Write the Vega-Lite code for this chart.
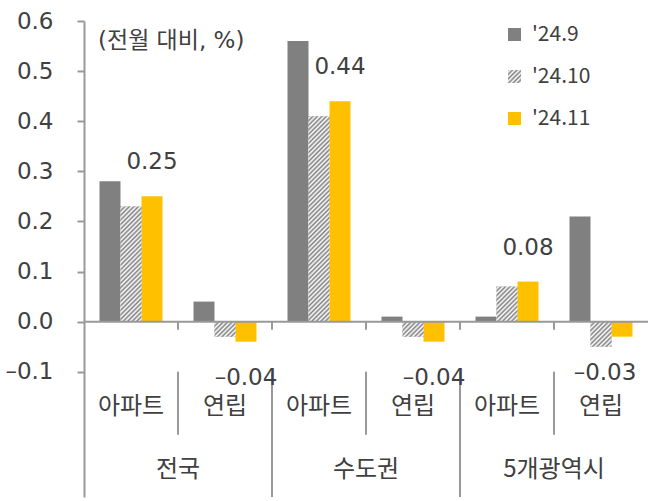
{
  "$schema": "https://vega.github.io/schema/vega-lite/v6.json",
  "width": 564,
  "height": 476,
  "autosize": {"type": "none"},
  "padding": {"left": 84, "top": 21, "right": 7, "bottom": 4},
  "background": "white",
  "config": {"view": {"stroke": null}, "font": "Noto Sans CJK KR"},
  "title": {"text": "(전월 대비, %)", "anchor": "start", "frame": "group", "orient": "top", "offset": -15, "baseline": "middle", "dx": 14, "dy": 39, "fontSize": 23, "font": "DejaVu Sans, Noto Sans CJK KR", "fontWeight": "normal", "color": "#404040"},
  "params": [
    {"name": "gL", "value": {"gradient": "linear", "x1": 0, "y1": 0, "x2": 8.692, "y2": 8.692, "stops": [{"offset":0,"color":"#808080"},{"offset":0.01,"color":"#fff"},{"offset":0.02,"color":"#808080"},{"offset":0.03,"color":"#fff"},{"offset":0.04,"color":"#808080"},{"offset":0.05,"color":"#fff"},{"offset":0.06,"color":"#808080"},{"offset":0.07,"color":"#fff"},{"offset":0.08,"color":"#808080"},{"offset":0.09,"color":"#fff"},{"offset":0.1,"color":"#808080"},{"offset":0.11,"color":"#fff"},{"offset":0.12,"color":"#808080"}]}},
    {"name": "gB", "value": {"gradient": "linear", "x1": 0, "y1": 0, "x2": 7.12, "y2": 5.09, "stops": [{"offset":0,"color":"#808080"},{"offset":0.01,"color":"#fff"},{"offset":0.02,"color":"#808080"},{"offset":0.03,"color":"#fff"},{"offset":0.04,"color":"#808080"},{"offset":0.05,"color":"#fff"},{"offset":0.06,"color":"#808080"},{"offset":0.07,"color":"#fff"},{"offset":0.08,"color":"#808080"},{"offset":0.09,"color":"#fff"},{"offset":0.1,"color":"#808080"},{"offset":0.11,"color":"#fff"},{"offset":0.12,"color":"#808080"},{"offset":0.13,"color":"#fff"},{"offset":0.14,"color":"#808080"},{"offset":0.15,"color":"#fff"},{"offset":0.16,"color":"#808080"}]}},
    {"name": "gF", "value": {"gradient": "linear", "x1": 0, "y1": 0, "x2": 4.442, "y2": 5.299, "stops": [{"offset":0,"color":"#808080"},{"offset":0.01,"color":"#fff"},{"offset":0.02,"color":"#808080"},{"offset":0.03,"color":"#fff"},{"offset":0.04,"color":"#808080"},{"offset":0.05,"color":"#fff"},{"offset":0.06,"color":"#808080"},{"offset":0.07,"color":"#fff"},{"offset":0.08,"color":"#808080"},{"offset":0.09,"color":"#fff"},{"offset":0.1,"color":"#808080"},{"offset":0.11,"color":"#fff"},{"offset":0.12,"color":"#808080"},{"offset":0.13,"color":"#fff"},{"offset":0.14,"color":"#808080"},{"offset":0.15,"color":"#fff"},{"offset":0.16,"color":"#808080"},{"offset":0.17,"color":"#fff"},{"offset":0.18,"color":"#808080"},{"offset":0.19,"color":"#fff"},{"offset":0.2,"color":"#808080"},{"offset":0.21,"color":"#fff"}]}},
    {"name": "gE", "value": {"gradient": "linear", "x1": 0, "y1": 0, "x2": 2.84, "y2": 4.743, "stops": [{"offset":0,"color":"#808080"},{"offset":0.01,"color":"#fff"},{"offset":0.02,"color":"#808080"},{"offset":0.03,"color":"#fff"},{"offset":0.04,"color":"#808080"},{"offset":0.05,"color":"#fff"},{"offset":0.06,"color":"#808080"},{"offset":0.07,"color":"#fff"},{"offset":0.08,"color":"#808080"},{"offset":0.09,"color":"#fff"},{"offset":0.1,"color":"#808080"},{"offset":0.11,"color":"#fff"},{"offset":0.12,"color":"#808080"},{"offset":0.13,"color":"#fff"},{"offset":0.14,"color":"#808080"},{"offset":0.15,"color":"#fff"},{"offset":0.16,"color":"#808080"},{"offset":0.17,"color":"#fff"},{"offset":0.18,"color":"#808080"},{"offset":0.19,"color":"#fff"},{"offset":0.2,"color":"#808080"},{"offset":0.21,"color":"#fff"},{"offset":0.22,"color":"#808080"},{"offset":0.23,"color":"#fff"},{"offset":0.24,"color":"#808080"},{"offset":0.25,"color":"#fff"}]}},
    {"name": "gA", "value": {"gradient": "linear", "x1": 0, "y1": 0, "x2": 0.3461, "y2": 1.8988, "stops": [{"offset":0,"color":"#808080"},{"offset":0.01,"color":"#fff"},{"offset":0.02,"color":"#808080"},{"offset":0.03,"color":"#fff"},{"offset":0.04,"color":"#808080"},{"offset":0.05,"color":"#fff"},{"offset":0.06,"color":"#808080"},{"offset":0.07,"color":"#fff"},{"offset":0.08,"color":"#808080"},{"offset":0.09,"color":"#fff"},{"offset":0.1,"color":"#808080"},{"offset":0.11,"color":"#fff"},{"offset":0.12,"color":"#808080"},{"offset":0.13,"color":"#fff"},{"offset":0.14,"color":"#808080"},{"offset":0.15,"color":"#fff"},{"offset":0.16,"color":"#808080"},{"offset":0.17,"color":"#fff"},{"offset":0.18,"color":"#808080"},{"offset":0.19,"color":"#fff"},{"offset":0.2,"color":"#808080"},{"offset":0.21,"color":"#fff"},{"offset":0.22,"color":"#808080"},{"offset":0.23,"color":"#fff"},{"offset":0.24,"color":"#808080"},{"offset":0.25,"color":"#fff"},{"offset":0.26,"color":"#808080"},{"offset":0.27,"color":"#fff"},{"offset":0.28,"color":"#808080"},{"offset":0.29,"color":"#fff"},{"offset":0.3,"color":"#808080"},{"offset":0.31,"color":"#fff"},{"offset":0.32,"color":"#808080"},{"offset":0.33,"color":"#fff"},{"offset":0.34,"color":"#808080"},{"offset":0.35,"color":"#fff"},{"offset":0.36,"color":"#808080"},{"offset":0.37,"color":"#fff"},{"offset":0.38,"color":"#808080"},{"offset":0.39,"color":"#fff"},{"offset":0.4,"color":"#808080"},{"offset":0.41,"color":"#fff"},{"offset":0.42,"color":"#808080"},{"offset":0.43,"color":"#fff"},{"offset":0.44,"color":"#808080"},{"offset":0.45,"color":"#fff"},{"offset":0.46,"color":"#808080"},{"offset":0.47,"color":"#fff"},{"offset":0.48,"color":"#808080"},{"offset":0.49,"color":"#fff"},{"offset":0.5,"color":"#808080"},{"offset":0.51,"color":"#fff"},{"offset":0.52,"color":"#808080"},{"offset":0.53,"color":"#fff"},{"offset":0.54,"color":"#808080"},{"offset":0.55,"color":"#fff"},{"offset":0.56,"color":"#808080"},{"offset":0.57,"color":"#fff"},{"offset":0.58,"color":"#808080"},{"offset":0.59,"color":"#fff"},{"offset":0.6,"color":"#808080"},{"offset":0.61,"color":"#fff"}]}},
    {"name": "gC", "value": {"gradient": "linear", "x1": 0, "y1": 0, "x2": 0.11176, "y2": 1.091, "stops": [{"offset":0,"color":"#808080"},{"offset":0.01,"color":"#fff"},{"offset":0.02,"color":"#808080"},{"offset":0.03,"color":"#fff"},{"offset":0.04,"color":"#808080"},{"offset":0.05,"color":"#fff"},{"offset":0.06,"color":"#808080"},{"offset":0.07,"color":"#fff"},{"offset":0.08,"color":"#808080"},{"offset":0.09,"color":"#fff"},{"offset":0.1,"color":"#808080"},{"offset":0.11,"color":"#fff"},{"offset":0.12,"color":"#808080"},{"offset":0.13,"color":"#fff"},{"offset":0.14,"color":"#808080"},{"offset":0.15,"color":"#fff"},{"offset":0.16,"color":"#808080"},{"offset":0.17,"color":"#fff"},{"offset":0.18,"color":"#808080"},{"offset":0.19,"color":"#fff"},{"offset":0.2,"color":"#808080"},{"offset":0.21,"color":"#fff"},{"offset":0.22,"color":"#808080"},{"offset":0.23,"color":"#fff"},{"offset":0.24,"color":"#808080"},{"offset":0.25,"color":"#fff"},{"offset":0.26,"color":"#808080"},{"offset":0.27,"color":"#fff"},{"offset":0.28,"color":"#808080"},{"offset":0.29,"color":"#fff"},{"offset":0.3,"color":"#808080"},{"offset":0.31,"color":"#fff"},{"offset":0.32,"color":"#808080"},{"offset":0.33,"color":"#fff"},{"offset":0.34,"color":"#808080"},{"offset":0.35,"color":"#fff"},{"offset":0.36,"color":"#808080"},{"offset":0.37,"color":"#fff"},{"offset":0.38,"color":"#808080"},{"offset":0.39,"color":"#fff"},{"offset":0.4,"color":"#808080"},{"offset":0.41,"color":"#fff"},{"offset":0.42,"color":"#808080"},{"offset":0.43,"color":"#fff"},{"offset":0.44,"color":"#808080"},{"offset":0.45,"color":"#fff"},{"offset":0.46,"color":"#808080"},{"offset":0.47,"color":"#fff"},{"offset":0.48,"color":"#808080"},{"offset":0.49,"color":"#fff"},{"offset":0.5,"color":"#808080"},{"offset":0.51,"color":"#fff"},{"offset":0.52,"color":"#808080"},{"offset":0.53,"color":"#fff"},{"offset":0.54,"color":"#808080"},{"offset":0.55,"color":"#fff"},{"offset":0.56,"color":"#808080"},{"offset":0.57,"color":"#fff"},{"offset":0.58,"color":"#808080"},{"offset":0.59,"color":"#fff"},{"offset":0.6,"color":"#808080"},{"offset":0.61,"color":"#fff"},{"offset":0.62,"color":"#808080"},{"offset":0.63,"color":"#fff"},{"offset":0.64,"color":"#808080"},{"offset":0.65,"color":"#fff"},{"offset":0.66,"color":"#808080"},{"offset":0.67,"color":"#fff"},{"offset":0.68,"color":"#808080"},{"offset":0.69,"color":"#fff"},{"offset":0.7,"color":"#808080"},{"offset":0.71,"color":"#fff"},{"offset":0.72,"color":"#808080"},{"offset":0.73,"color":"#fff"},{"offset":0.74,"color":"#808080"},{"offset":0.75,"color":"#fff"},{"offset":0.76,"color":"#808080"},{"offset":0.77,"color":"#fff"},{"offset":0.78,"color":"#808080"},{"offset":0.79,"color":"#fff"},{"offset":0.8,"color":"#808080"},{"offset":0.81,"color":"#fff"},{"offset":0.82,"color":"#808080"},{"offset":0.83,"color":"#fff"},{"offset":0.84,"color":"#808080"},{"offset":0.85,"color":"#fff"},{"offset":0.86,"color":"#808080"},{"offset":0.87,"color":"#fff"},{"offset":0.88,"color":"#808080"},{"offset":0.89,"color":"#fff"},{"offset":0.9,"color":"#808080"},{"offset":0.91,"color":"#fff"},{"offset":0.92,"color":"#808080"},{"offset":0.93,"color":"#fff"},{"offset":0.94,"color":"#808080"},{"offset":0.95,"color":"#fff"},{"offset":0.96,"color":"#808080"},{"offset":0.97,"color":"#fff"},{"offset":0.98,"color":"#808080"},{"offset":0.99,"color":"#fff"},{"offset":1,"color":"#808080"}]}}
  ],
  "datasets": {
    "bars": [
      {"grp": "전국", "sub": "아파트", "cat": "전국 아파트", "series": "'24.9", "value": 0.28},
      {"grp": "전국", "sub": "아파트", "cat": "전국 아파트", "series": "'24.10", "value": 0.23},
      {"grp": "전국", "sub": "아파트", "cat": "전국 아파트", "series": "'24.11", "value": 0.25},
      {"grp": "전국", "sub": "연립", "cat": "전국 연립", "series": "'24.9", "value": 0.04},
      {"grp": "전국", "sub": "연립", "cat": "전국 연립", "series": "'24.10", "value": -0.03},
      {"grp": "전국", "sub": "연립", "cat": "전국 연립", "series": "'24.11", "value": -0.04},
      {"grp": "수도권", "sub": "아파트", "cat": "수도권 아파트", "series": "'24.9", "value": 0.56},
      {"grp": "수도권", "sub": "아파트", "cat": "수도권 아파트", "series": "'24.10", "value": 0.41},
      {"grp": "수도권", "sub": "아파트", "cat": "수도권 아파트", "series": "'24.11", "value": 0.44},
      {"grp": "수도권", "sub": "연립", "cat": "수도권 연립", "series": "'24.9", "value": 0.01},
      {"grp": "수도권", "sub": "연립", "cat": "수도권 연립", "series": "'24.10", "value": -0.03},
      {"grp": "수도권", "sub": "연립", "cat": "수도권 연립", "series": "'24.11", "value": -0.04},
      {"grp": "5개광역시", "sub": "아파트", "cat": "5개광역시 아파트", "series": "'24.9", "value": 0.01},
      {"grp": "5개광역시", "sub": "아파트", "cat": "5개광역시 아파트", "series": "'24.10", "value": 0.07},
      {"grp": "5개광역시", "sub": "아파트", "cat": "5개광역시 아파트", "series": "'24.11", "value": 0.08},
      {"grp": "5개광역시", "sub": "연립", "cat": "5개광역시 연립", "series": "'24.9", "value": 0.21},
      {"grp": "5개광역시", "sub": "연립", "cat": "5개광역시 연립", "series": "'24.10", "value": -0.05},
      {"grp": "5개광역시", "sub": "연립", "cat": "5개광역시 연립", "series": "'24.11", "value": -0.03}
    ],
    "cats": [
      {"grp": "전국", "sub": "아파트", "cat": "전국 아파트", "idx": 0},
      {"grp": "전국", "sub": "연립", "cat": "전국 연립", "idx": 1},
      {"grp": "수도권", "sub": "아파트", "cat": "수도권 아파트", "idx": 2},
      {"grp": "수도권", "sub": "연립", "cat": "수도권 연립", "idx": 3},
      {"grp": "5개광역시", "sub": "아파트", "cat": "5개광역시 아파트", "idx": 4},
      {"grp": "5개광역시", "sub": "연립", "cat": "5개광역시 연립", "idx": 5}
    ]
  },
  "layer": [
    {
      "data": {"name": "bars"},
      "mark": {"type": "bar"},
      "encoding": {
        "x": {"field": "cat", "type": "nominal", "scale": {"domain": ["전국 아파트", "전국 연립", "수도권 아파트", "수도권 연립", "5개광역시 아파트", "5개광역시 연립"], "paddingInner": 0, "paddingOuter": 0}, "axis": null},
        "xOffset": {"field": "series", "type": "nominal", "scale": {"domain": ["'24.9", "'24.10", "'24.11"], "paddingInner": 0, "paddingOuter": 0.738}},
        "y": {"field": "value", "type": "quantitative", "scale": {"domain": [-0.35, 0.6], "nice": false, "zero": false},
          "axis": {"values": [-0.1, 0, 0.1, 0.2, 0.3, 0.4, 0.5, 0.6], "format": ".1f", "labelExpr": "replace(datum.label, '−', '–')", "title": null, "grid": false, "domainColor": "#999999", "domainWidth": 2, "tickColor": "#999999", "tickWidth": 2, "tickSize": 7, "labelPadding": 24, "labelFontSize": 23, "labelFont": "DejaVu Sans", "labelColor": "#404040", "labelOverlap": false}},
        "color": {"field": "series", "type": "nominal", "scale": {"domain": ["'24.9", "'24.10", "'24.11"], "range": ["#808080", {"expr": "gL"}, "#FFC000"]},
          "legend": {"title": null, "orient": "none", "legendX": 420, "legendY": 3, "symbolType": "square", "symbolSize": 169, "symbolStrokeWidth": 0, "labelFont": "Noto Sans CJK KR", "labelFontSize": 21, "labelColor": "#404040", "labelOffset": 7, "rowPadding": 20, "padding": 0, "labelLimit": 300}}
      }
    },
    {
      "data": {"name": "bars"},
      "transform": [{"filter": {"field": "series", "equal": "'24.10"}}],
      "mark": {"type": "bar"},
      "encoding": {
        "x": {"field": "cat", "type": "nominal", "scale": {"domain": ["전국 아파트", "전국 연립", "수도권 아파트", "수도권 연립", "5개광역시 아파트", "5개광역시 연립"], "paddingInner": 0, "paddingOuter": 0}, "axis": null},
        "xOffset": {"field": "series", "type": "nominal", "scale": {"domain": ["'24.9", "'24.10", "'24.11"], "paddingInner": 0, "paddingOuter": 0.738}},
        "y": {"field": "value", "type": "quantitative", "scale": {"domain": [-0.35, 0.6], "nice": false, "zero": false},
          "axis": {"values": [-0.1, 0, 0.1, 0.2, 0.3, 0.4, 0.5, 0.6], "format": ".1f", "labelExpr": "replace(datum.label, '−', '–')", "title": null, "grid": false, "domainColor": "#999999", "domainWidth": 2, "tickColor": "#999999", "tickWidth": 2, "tickSize": 7, "labelPadding": 24, "labelFontSize": 23, "labelFont": "DejaVu Sans", "labelColor": "#404040", "labelOverlap": false}},
        "fill": {"field": "cat", "type": "nominal", "scale": {"domain": ["전국 아파트", "전국 연립", "수도권 아파트", "수도권 연립", "5개광역시 아파트", "5개광역시 연립"], "range": [{"expr": "gA"}, {"expr": "gB"}, {"expr": "gC"}, {"expr": "gB"}, {"expr": "gE"}, {"expr": "gF"}]}, "legend": null}
      }
    },
    {
      "data": {"name": "cats"},
      "transform": [{"filter": "datum.idx == 0"}],
      "mark": {"type": "rule", "color": "#999999", "strokeWidth": 2},
      "encoding": {"y": {"datum": 0, "type": "quantitative", "scale": {"domain": [-0.35, 0.6], "nice": false, "zero": false},
          "axis": {"values": [-0.1, 0, 0.1, 0.2, 0.3, 0.4, 0.5, 0.6], "format": ".1f", "labelExpr": "replace(datum.label, '−', '–')", "title": null, "grid": false, "domainColor": "#999999", "domainWidth": 2, "tickColor": "#999999", "tickWidth": 2, "tickSize": 7, "labelPadding": 24, "labelFontSize": 23, "labelFont": "DejaVu Sans", "labelColor": "#404040", "labelOverlap": false}}}
    },
    {
      "data": {"name": "cats"},
      "transform": [{"filter": "datum.idx > 0"}],
      "mark": {"type": "rule", "color": "#999999", "strokeWidth": 2},
      "encoding": {
        "x": {"field": "cat", "type": "nominal", "bandPosition": 0, "scale": {"domain": ["전국 아파트", "전국 연립", "수도권 아파트", "수도권 연립", "5개광역시 아파트", "5개광역시 연립"], "paddingInner": 0, "paddingOuter": 0}, "axis": null},
        "y": {"datum": 0, "type": "quantitative", "scale": {"domain": [-0.35, 0.6], "nice": false, "zero": false},
          "axis": {"values": [-0.1, 0, 0.1, 0.2, 0.3, 0.4, 0.5, 0.6], "format": ".1f", "labelExpr": "replace(datum.label, '−', '–')", "title": null, "grid": false, "domainColor": "#999999", "domainWidth": 2, "tickColor": "#999999", "tickWidth": 2, "tickSize": 7, "labelPadding": 24, "labelFontSize": 23, "labelFont": "DejaVu Sans", "labelColor": "#404040", "labelOverlap": false}},
        "y2": {"datum": -0.016}
      }
    },
    {
      "data": {"name": "cats"},
      "transform": [{"filter": {"field": "sub", "equal": "아파트"}}],
      "mark": {"type": "rule", "color": "#999999", "strokeWidth": 2},
      "encoding": {
        "x": {"field": "cat", "type": "nominal", "bandPosition": 1, "scale": {"domain": ["전국 아파트", "전국 연립", "수도권 아파트", "수도권 연립", "5개광역시 아파트", "5개광역시 연립"], "paddingInner": 0, "paddingOuter": 0}, "axis": null},
        "y": {"datum": -0.1, "type": "quantitative", "scale": {"domain": [-0.35, 0.6], "nice": false, "zero": false},
          "axis": {"values": [-0.1, 0, 0.1, 0.2, 0.3, 0.4, 0.5, 0.6], "format": ".1f", "labelExpr": "replace(datum.label, '−', '–')", "title": null, "grid": false, "domainColor": "#999999", "domainWidth": 2, "tickColor": "#999999", "tickWidth": 2, "tickSize": 7, "labelPadding": 24, "labelFontSize": 23, "labelFont": "DejaVu Sans", "labelColor": "#404040", "labelOverlap": false}},
        "y2": {"datum": -0.226}
      }
    },
    {
      "data": {"name": "cats"},
      "transform": [{"filter": "datum.idx == 1 || datum.idx == 3"}],
      "mark": {"type": "rule", "color": "#999999", "strokeWidth": 2},
      "encoding": {
        "x": {"field": "cat", "type": "nominal", "bandPosition": 1, "scale": {"domain": ["전국 아파트", "전국 연립", "수도권 아파트", "수도권 연립", "5개광역시 아파트", "5개광역시 연립"], "paddingInner": 0, "paddingOuter": 0}, "axis": null},
        "y": {"datum": -0.1, "type": "quantitative", "scale": {"domain": [-0.35, 0.6], "nice": false, "zero": false},
          "axis": {"values": [-0.1, 0, 0.1, 0.2, 0.3, 0.4, 0.5, 0.6], "format": ".1f", "labelExpr": "replace(datum.label, '−', '–')", "title": null, "grid": false, "domainColor": "#999999", "domainWidth": 2, "tickColor": "#999999", "tickWidth": 2, "tickSize": 7, "labelPadding": 24, "labelFontSize": 23, "labelFont": "DejaVu Sans", "labelColor": "#404040", "labelOverlap": false}},
        "y2": {"datum": -0.35}
      }
    },
    {
      "data": {"name": "cats"},
      "mark": {"type": "text", "font": "Noto Sans CJK KR", "fontSize": 24, "color": "#404040", "baseline": "middle", "align": "center"},
      "encoding": {
        "x": {"field": "cat", "type": "nominal", "scale": {"domain": ["전국 아파트", "전국 연립", "수도권 아파트", "수도권 연립", "5개광역시 아파트", "5개광역시 연립"], "paddingInner": 0, "paddingOuter": 0}, "axis": null},
        "y": {"datum": -0.17, "type": "quantitative", "scale": {"domain": [-0.35, 0.6], "nice": false, "zero": false},
          "axis": {"values": [-0.1, 0, 0.1, 0.2, 0.3, 0.4, 0.5, 0.6], "format": ".1f", "labelExpr": "replace(datum.label, '−', '–')", "title": null, "grid": false, "domainColor": "#999999", "domainWidth": 2, "tickColor": "#999999", "tickWidth": 2, "tickSize": 7, "labelPadding": 24, "labelFontSize": 23, "labelFont": "DejaVu Sans", "labelColor": "#404040", "labelOverlap": false}},
        "text": {"field": "sub"}
      }
    },
    {
      "data": {"name": "cats"},
      "transform": [{"filter": {"field": "sub", "equal": "아파트"}}],
      "mark": {"type": "text", "font": "Noto Sans CJK KR", "fontSize": 24, "color": "#404040", "baseline": "middle", "align": "center"},
      "encoding": {
        "x": {"field": "cat", "type": "nominal", "bandPosition": 1, "scale": {"domain": ["전국 아파트", "전국 연립", "수도권 아파트", "수도권 연립", "5개광역시 아파트", "5개광역시 연립"], "paddingInner": 0, "paddingOuter": 0}, "axis": null},
        "y": {"datum": -0.296, "type": "quantitative", "scale": {"domain": [-0.35, 0.6], "nice": false, "zero": false},
          "axis": {"values": [-0.1, 0, 0.1, 0.2, 0.3, 0.4, 0.5, 0.6], "format": ".1f", "labelExpr": "replace(datum.label, '−', '–')", "title": null, "grid": false, "domainColor": "#999999", "domainWidth": 2, "tickColor": "#999999", "tickWidth": 2, "tickSize": 7, "labelPadding": 24, "labelFontSize": 23, "labelFont": "DejaVu Sans", "labelColor": "#404040", "labelOverlap": false}},
        "text": {"field": "grp"}
      }
    },
    {
      "data": {"name": "bars"},
      "transform": [{"filter": {"field": "series", "equal": "'24.11"}}, {"filter": "datum.value > 0"}],
      "mark": {"type": "text", "font": "DejaVu Sans", "fontSize": 23, "color": "#404040", "baseline": "alphabetic", "align": "center", "dy": -27},
      "encoding": {
        "x": {"field": "cat", "type": "nominal", "scale": {"domain": ["전국 아파트", "전국 연립", "수도권 아파트", "수도권 연립", "5개광역시 아파트", "5개광역시 연립"], "paddingInner": 0, "paddingOuter": 0}, "axis": null},
        "xOffset": {"field": "series", "type": "nominal", "scale": {"domain": ["'24.9", "'24.10", "'24.11"], "paddingInner": 0, "paddingOuter": 0.738}},
        "y": {"field": "value", "type": "quantitative", "scale": {"domain": [-0.35, 0.6], "nice": false, "zero": false},
          "axis": {"values": [-0.1, 0, 0.1, 0.2, 0.3, 0.4, 0.5, 0.6], "format": ".1f", "labelExpr": "replace(datum.label, '−', '–')", "title": null, "grid": false, "domainColor": "#999999", "domainWidth": 2, "tickColor": "#999999", "tickWidth": 2, "tickSize": 7, "labelPadding": 24, "labelFontSize": 23, "labelFont": "DejaVu Sans", "labelColor": "#404040", "labelOverlap": false}},
        "text": {"field": "value", "type": "quantitative", "format": ".2f"}
      }
    },
    {
      "data": {"name": "bars"},
      "transform": [{"filter": {"field": "series", "equal": "'24.11"}}, {"filter": "datum.value < 0 && datum.grp != '5개광역시'"}],
      "mark": {"type": "text", "font": "DejaVu Sans", "fontSize": 23, "color": "#404040", "baseline": "alphabetic", "align": "center", "dy": 43, "text": {"expr": "replace(format(datum.value, '.2f'), '−', '–')"}},
      "encoding": {
        "x": {"field": "cat", "type": "nominal", "scale": {"domain": ["전국 아파트", "전국 연립", "수도권 아파트", "수도권 연립", "5개광역시 아파트", "5개광역시 연립"], "paddingInner": 0, "paddingOuter": 0}, "axis": null},
        "xOffset": {"field": "series", "type": "nominal", "scale": {"domain": ["'24.9", "'24.10", "'24.11"], "paddingInner": 0, "paddingOuter": 0.738}},
        "y": {"field": "value", "type": "quantitative", "scale": {"domain": [-0.35, 0.6], "nice": false, "zero": false},
          "axis": {"values": [-0.1, 0, 0.1, 0.2, 0.3, 0.4, 0.5, 0.6], "format": ".1f", "labelExpr": "replace(datum.label, '−', '–')", "title": null, "grid": false, "domainColor": "#999999", "domainWidth": 2, "tickColor": "#999999", "tickWidth": 2, "tickSize": 7, "labelPadding": 24, "labelFontSize": 23, "labelFont": "DejaVu Sans", "labelColor": "#404040", "labelOverlap": false}}
      }
    },
    {
      "data": {"name": "bars"},
      "transform": [{"filter": {"field": "series", "equal": "'24.11"}}, {"filter": "datum.value < 0 && datum.grp == '5개광역시'"}],
      "mark": {"type": "text", "font": "DejaVu Sans", "fontSize": 23, "color": "#404040", "baseline": "alphabetic", "align": "center", "dy": 43, "dx": -17, "text": {"expr": "replace(format(datum.value, '.2f'), '−', '–')"}},
      "encoding": {
        "x": {"field": "cat", "type": "nominal", "scale": {"domain": ["전국 아파트", "전국 연립", "수도권 아파트", "수도권 연립", "5개광역시 아파트", "5개광역시 연립"], "paddingInner": 0, "paddingOuter": 0}, "axis": null},
        "xOffset": {"field": "series", "type": "nominal", "scale": {"domain": ["'24.9", "'24.10", "'24.11"], "paddingInner": 0, "paddingOuter": 0.738}},
        "y": {"field": "value", "type": "quantitative", "scale": {"domain": [-0.35, 0.6], "nice": false, "zero": false},
          "axis": {"values": [-0.1, 0, 0.1, 0.2, 0.3, 0.4, 0.5, 0.6], "format": ".1f", "labelExpr": "replace(datum.label, '−', '–')", "title": null, "grid": false, "domainColor": "#999999", "domainWidth": 2, "tickColor": "#999999", "tickWidth": 2, "tickSize": 7, "labelPadding": 24, "labelFontSize": 23, "labelFont": "DejaVu Sans", "labelColor": "#404040", "labelOverlap": false}}
      }
    }
  ]
}
